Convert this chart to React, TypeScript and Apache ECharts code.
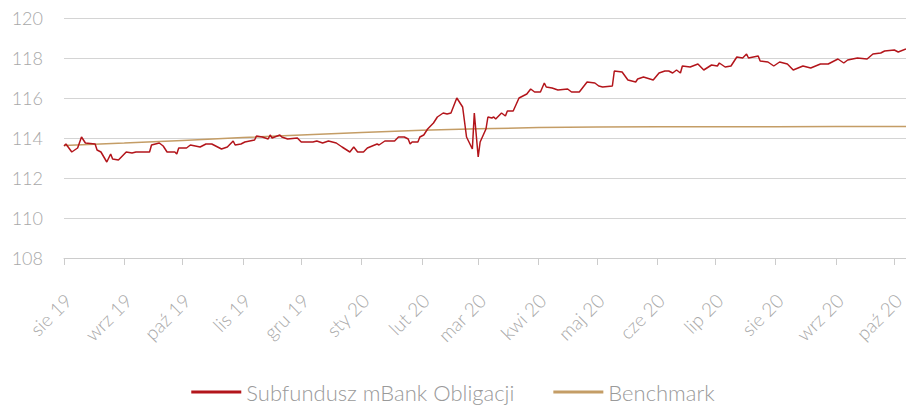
import React, { useEffect, useRef } from "react";
import * as echarts from "echarts";

const monthLabels = ["sty", "lut", "mar", "kwi", "maj", "cze", "lip", "sie", "wrz", "paź", "lis", "gru"];
const xTickDates = [
  "2019-08-01", "2019-09-01", "2019-10-01", "2019-11-01", "2019-12-01", "2020-01-01", "2020-02-01", "2020-03-01",
  "2020-04-01", "2020-05-01", "2020-06-01", "2020-07-01", "2020-08-01", "2020-09-01", "2020-10-01"
];
const yTicks = [108, 110, 112, 114, 116, 118, 120];
const seriesNames = ["Subfundusz mBank Obligacji", "Benchmark"];

const fundDates = [
  "2019-08-01", "2019-08-02", "2019-08-05", "2019-08-08", "2019-08-10", "2019-08-12", "2019-08-17", "2019-08-18",
  "2019-08-20", "2019-08-23", "2019-08-25", "2019-08-26", "2019-08-29", "2019-09-02", "2019-09-05", "2019-09-07",
  "2019-09-14", "2019-09-15", "2019-09-19", "2019-09-21", "2019-09-23", "2019-09-27", "2019-09-28", "2019-09-29",
  "2019-10-03", "2019-10-05", "2019-10-10", "2019-10-13", "2019-10-16", "2019-10-21", "2019-10-24", "2019-10-27",
  "2019-10-28", "2019-10-31", "2019-11-02", "2019-11-07", "2019-11-08", "2019-11-11", "2019-11-14", "2019-11-15",
  "2019-11-16", "2019-11-20", "2019-11-21", "2019-11-24", "2019-11-29", "2019-12-01", "2019-12-07", "2019-12-09",
  "2019-12-12", "2019-12-15", "2019-12-19", "2019-12-22", "2019-12-26", "2019-12-28", "2019-12-30", "2020-01-02",
  "2020-01-04", "2020-01-09", "2020-01-10", "2020-01-13", "2020-01-18", "2020-01-20", "2020-01-23", "2020-01-25",
  "2020-01-26", "2020-01-27", "2020-01-30", "2020-01-31", "2020-02-02", "2020-02-04", "2020-02-07", "2020-02-09",
  "2020-02-12", "2020-02-14", "2020-02-16", "2020-02-19", "2020-02-22", "2020-02-24", "2020-02-27", "2020-02-28",
  "2020-03-01", "2020-03-02", "2020-03-05", "2020-03-06", "2020-03-08", "2020-03-09", "2020-03-10", "2020-03-13",
  "2020-03-15", "2020-03-16", "2020-03-19", "2020-03-22", "2020-03-26", "2020-03-28", "2020-03-30", "2020-04-02",
  "2020-04-04", "2020-04-05", "2020-04-08", "2020-04-11", "2020-04-16", "2020-04-18", "2020-04-22", "2020-04-26",
  "2020-04-30", "2020-05-02", "2020-05-04", "2020-05-09", "2020-05-10", "2020-05-14", "2020-05-17", "2020-05-21",
  "2020-05-22", "2020-05-25", "2020-05-30", "2020-06-02", "2020-06-05", "2020-06-07", "2020-06-09", "2020-06-11",
  "2020-06-13", "2020-06-14", "2020-06-18", "2020-06-22", "2020-06-25", "2020-06-29", "2020-07-02", "2020-07-03",
  "2020-07-06", "2020-07-09", "2020-07-12", "2020-07-15", "2020-07-17", "2020-07-18", "2020-07-23", "2020-07-24",
  "2020-07-28", "2020-07-31", "2020-08-03", "2020-08-07", "2020-08-10", "2020-08-15", "2020-08-19", "2020-08-24",
  "2020-08-28", "2020-09-02", "2020-09-05", "2020-09-07", "2020-09-12", "2020-09-17", "2020-09-20", "2020-09-24",
  "2020-09-26", "2020-10-01", "2020-10-03", "2020-10-07"
];

const fundValues = [
  113.6, 113.7, 113.3, 113.5, 114.05, 113.75, 113.7, 113.4,
  113.3, 112.8, 113.2, 112.95, 112.9, 113.3, 113.25, 113.3,
  113.3, 113.65, 113.75, 113.6, 113.3, 113.3, 113.2, 113.5,
  113.5, 113.65, 113.55, 113.7, 113.7, 113.45, 113.55, 113.85,
  113.65, 113.7, 113.8, 113.9, 114.1, 114.05, 113.95, 114.15,
  114.0, 114.15, 114.05, 113.95, 114.0, 113.8, 113.8, 113.85,
  113.75, 113.85, 113.75, 113.55, 113.3, 113.55, 113.3, 113.3,
  113.5, 113.7, 113.65, 113.85, 113.85, 114.05, 114.05, 113.95,
  113.7, 113.8, 113.8, 114.05, 114.15, 114.45, 114.75, 115.05,
  115.25, 115.2, 115.25, 116.0, 115.55, 114.05, 113.45, 115.25,
  113.05, 113.8, 114.45, 115.05, 115.0, 115.05, 114.95, 115.25,
  115.1, 115.35, 115.35, 116.0, 116.2, 116.45, 116.3, 116.3,
  116.75, 116.55, 116.5, 116.4, 116.45, 116.3, 116.3, 116.8,
  116.75, 116.6, 116.55, 116.6, 117.35, 117.3, 116.9, 116.8,
  116.95, 117.05, 116.9, 117.25, 117.35, 117.35, 117.25, 117.4,
  117.25, 117.6, 117.55, 117.7, 117.4, 117.65, 117.6, 117.75,
  117.55, 117.6, 118.05, 118.0, 118.2, 118.0, 118.1, 117.85,
  117.8, 117.6, 117.8, 117.7, 117.4, 117.6, 117.5, 117.7,
  117.7, 117.95, 117.75, 117.9, 118.0, 117.95, 118.2, 118.25,
  118.35, 118.4, 118.3, 118.45
];

const benchDates = [
  "2019-08-01", "2019-09-01", "2019-10-01", "2019-11-01", "2019-12-01", "2020-01-01", "2020-02-01",
  "2020-03-01", "2020-04-01", "2020-05-01", "2020-06-01", "2020-07-01", "2020-08-01", "2020-09-01",
  "2020-10-01", "2020-10-07"
];
const benchValues = [
  113.63, 113.75, 113.88, 114.02, 114.15, 114.27, 114.39,
  114.46, 114.52, 114.55, 114.56, 114.56, 114.56, 114.57,
  114.57, 114.57
];

const FONT = "Lato";
const LABEL_COLOR = "#a8a8a8";

const parse = (s: string) => {
  const [y, m, d] = s.split("-").map(Number);
  return new Date(y, m - 1, d).getTime();
};
const tickLabel = (s: string) => {
  const d = new Date(parse(s));
  return monthLabels[d.getMonth()] + " " + String(d.getFullYear()).slice(2);
};

export default function App() {
  const ref = useRef<HTMLDivElement>(null);
  useEffect(() => {
    if (!ref.current) return;
    const chart = echarts.init(ref.current, null, { renderer: "svg" });
    chart.setOption({
      animation: false,
      textStyle: { fontFamily: FONT },
      grid: { left: 64, right: 0, top: 18, bottom: 147 },
      legend: {
        bottom: 2,
        padding: 0,
        left: "center",
        icon: "rect",
        itemWidth: 50,
        itemHeight: 3,
        itemGap: 39,
        textStyle: { fontSize: 22, color: "#9a9a9a", fontFamily: FONT, fontWeight: 300 },
        data: seriesNames,
      },
      xAxis: {
        type: "time",
        min: parse("2019-08-01"),
        max: parse("2020-10-07"),
        minInterval: 28 * 86400000,
        maxInterval: 31 * 86400000,
        splitLine: { show: false },
        axisLine: { lineStyle: { color: "#cccccc", width: 1 } },
        axisTick: { show: true, length: 7, lineStyle: { color: "#cccccc" } },
        axisLabel: { show: false },
      },
      yAxis: {
        type: "value",
        min: yTicks[0],
        max: yTicks[yTicks.length - 1],
        interval: 2,
        axisLine: { show: false },
        axisTick: { show: false },
        splitLine: { lineStyle: { color: "#d4d4d4", width: 1 } },
        axisLabel: { fontSize: 18, color: LABEL_COLOR, margin: 21, fontFamily: FONT, fontWeight: 300 },
      },
      series: [
        {
          name: seriesNames[0],
          type: "line",
          showSymbol: false,
          color: "#b3151b",
          lineStyle: { width: 1.5, color: "#b3151b" },
          data: fundDates.map((d, i) => [parse(d), fundValues[i]]),
          z: 3,
        },
        {
          name: seriesNames[1],
          type: "line",
          showSymbol: false,
          color: "#c49d66",
          lineStyle: { width: 1.5, color: "#c49d66" },
          data: benchDates.map((d, i) => [parse(d), benchValues[i]]),
          z: 2,
        },
      ],
    });
    const axisY = chart.convertToPixel({ yAxisIndex: 0 }, yTicks[0]) as number;
    const graphics = xTickDates.map((s) => {
      const px = chart.convertToPixel({ xAxisIndex: 0 }, parse(s)) as number;
      return {
        type: "text",
        x: px + 4,
        y: axisY + 39,
        rotation: Math.PI / 4,
        silent: true,
        style: {
          text: tickLabel(s),
          fill: LABEL_COLOR,
          fontSize: 19,
          fontFamily: FONT,
          fontWeight: 300,
          align: "right",
          verticalAlign: "middle",
          textAlign: "right",
          textVerticalAlign: "middle",
        },
      };
    });
    chart.setOption({ graphic: graphics });
    return () => chart.dispose();
  }, []);
  return (
    <div style={{ position: "absolute", left: 0, top: 0, width: 906, height: 405, overflow: "hidden" }}>
      <div ref={ref} style={{ width: 906, height: 405 }} />
    </div>
  );
}
